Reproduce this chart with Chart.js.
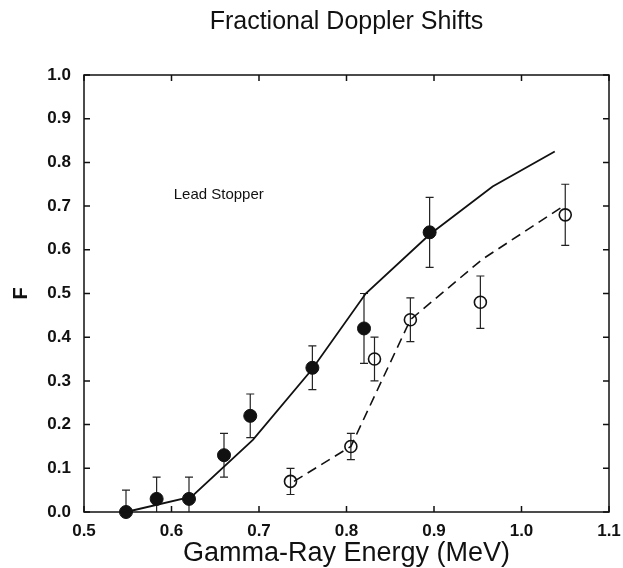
<!DOCTYPE html>
<html lang="en">
<head>
  <meta charset="UTF-8">
  <title>Fractional Doppler Shifts</title>
  <script src="https://cdn.jsdelivr.net/npm/chart.js"></script>
  <style>
    body { margin: 0; background: #fff; }
  </style>
</head>
<body>
  <canvas id="dopplerChart" width="623" height="568"></canvas>

  <script>
    // lead stopper, filled points (measured)
    const filledE = [0.548, 0.583, 0.620, 0.660, 0.690, 0.761, 0.820, 0.895];
    const filledF = [0.00, 0.03, 0.03, 0.13, 0.22, 0.33, 0.42, 0.64];
    const filledHi = [0.05, 0.08, 0.08, 0.18, 0.27, 0.38, 0.50, 0.72];
    const filledLo = [0.00, 0.00, 0.00, 0.08, 0.17, 0.28, 0.34, 0.56];

    // open points
    const openE = [0.736, 0.805, 0.832, 0.873, 0.953, 1.050];
    const openF = [0.07, 0.15, 0.35, 0.44, 0.48, 0.68];
    const openHi = [0.10, 0.18, 0.40, 0.49, 0.54, 0.75];
    const openLo = [0.04, 0.12, 0.30, 0.39, 0.42, 0.61];

    // calculated curves
    const solidE = [0.548, 0.623, 0.693, 0.760, 0.822, 0.895, 0.967, 1.038];
    const solidF = [0.000, 0.035, 0.165, 0.325, 0.500, 0.635, 0.745, 0.825];
    const dashE = [0.740, 0.805, 0.873, 0.955, 1.048];
    const dashF = [0.070, 0.150, 0.440, 0.578, 0.700];

    const xTicks = [0.5, 0.6, 0.7, 0.8, 0.9, 1.0, 1.1];
    const yTicks = [0.0, 0.1, 0.2, 0.3, 0.4, 0.5, 0.6, 0.7, 0.8, 0.9, 1.0];

    const pts = (xs, ys) => xs.map((x, i) => ({ x, y: ys[i] }));
    const ink = '#111';
    const fontFamily = 'Arial, "Liberation Sans", Helvetica, sans-serif';

    // error bars, drawn under the markers so open circles show a line through them
    const errorBars = {
      id: 'errorBars',
      beforeDatasetsDraw(chart) {
        const { ctx, scales: { x, y } } = chart;
        const sets = [[filledE, filledHi, filledLo], [openE, openHi, openLo]];
        ctx.save();
        ctx.strokeStyle = '#222';
        ctx.lineWidth = 1.2;
        sets.forEach(([xs, hi, lo]) => {
          xs.forEach((e, i) => {
            const px = x.getPixelForValue(e);
            const top = y.getPixelForValue(hi[i]);
            const bot = y.getPixelForValue(lo[i]);
            ctx.beginPath();
            ctx.moveTo(px, top);
            ctx.lineTo(px, bot);
            ctx.moveTo(px - 4, top);
            ctx.lineTo(px + 4, top);
            if (lo[i] > 0) {
              ctx.moveTo(px - 4, bot);
              ctx.lineTo(px + 4, bot);
            }
            ctx.stroke();
          });
        });
        ctx.restore();
      }
    };

    // box frame with inward ticks on all four sides, plus the label
    const frame = {
      id: 'frame',
      afterDraw(chart) {
        const { ctx, chartArea: a, scales: { x, y } } = chart;
        ctx.save();
        ctx.strokeStyle = ink;
        ctx.lineWidth = 1.5;
        ctx.strokeRect(a.left, a.top, a.right - a.left, a.bottom - a.top);
        ctx.beginPath();
        xTicks.forEach(v => {
          const px = x.getPixelForValue(v);
          ctx.moveTo(px, a.bottom); ctx.lineTo(px, a.bottom - 6);
          ctx.moveTo(px, a.top); ctx.lineTo(px, a.top + 6);
        });
        yTicks.forEach(v => {
          const py = y.getPixelForValue(v);
          ctx.moveTo(a.left, py); ctx.lineTo(a.left + 6, py);
          ctx.moveTo(a.right, py); ctx.lineTo(a.right - 6, py);
        });
        ctx.stroke();

        ctx.fillStyle = ink;
        ctx.font = '15px ' + fontFamily;
        ctx.textAlign = 'center';
        ctx.textBaseline = 'middle';
        ctx.fillText('Lead Stopper', x.getPixelForValue(0.654), y.getPixelForValue(0.725));
        ctx.restore();
      }
    };

    new Chart(document.getElementById('dopplerChart').getContext('2d'), {
      type: 'scatter',
      data: {
        datasets: [
          {
            data: pts(solidE, solidF),
            showLine: true,
            borderColor: ink,
            borderWidth: 1.8,
            pointRadius: 0,
            tension: 0
          },
          {
            data: pts(dashE, dashF),
            showLine: true,
            borderColor: ink,
            borderWidth: 1.6,
            borderDash: [10, 6],
            pointRadius: 0,
            tension: 0
          },
          {
            data: pts(filledE, filledF),
            pointRadius: 6.5,
            pointBackgroundColor: ink,
            pointBorderColor: ink,
            pointBorderWidth: 1
          },
          {
            data: pts(openE, openF),
            pointRadius: 6,
            pointBackgroundColor: 'rgba(0,0,0,0)',
            pointBorderColor: ink,
            pointBorderWidth: 1.6
          }
        ]
      },
      options: {
        responsive: false,
        animation: false,
        clip: false,
        layout: { padding: { left: 0, right: 14, top: 0, bottom: 0 } },
        plugins: {
          legend: { display: false },
          tooltip: { enabled: false },
          title: {
            display: true,
            fullSize: false,
            text: 'Fractional Doppler Shifts',
            color: ink,
            font: { family: fontFamily, size: 25, weight: 'normal' },
            padding: { top: 7, bottom: 38 }
          }
        },
        scales: {
          x: {
            type: 'linear',
            min: 0.5,
            max: 1.1,
            afterFit: s => { s.height = 56; s.paddingLeft = 0; s.paddingRight = 0; },
            afterBuildTicks: s => { s.ticks = xTicks.map(v => ({ value: v })); },
            grid: { display: false, drawTicks: false },
            border: { display: false },
            ticks: {
              color: ink,
              padding: 9,
              font: { family: fontFamily, size: 17, weight: 'bold' },
              callback: v => v.toFixed(1)
            },
            title: {
              display: true,
              text: 'Gamma-Ray Energy (MeV)',
              color: ink,
              font: { family: fontFamily, size: 27, weight: 'normal', lineHeight: 1.1 },
              padding: { top: 0, bottom: 0 }
            }
          },
          y: {
            type: 'linear',
            min: 0,
            max: 1,
            afterFit: s => { s.width = 84; },
            afterBuildTicks: s => { s.ticks = yTicks.map(v => ({ value: v })); },
            grid: { display: false, drawTicks: false },
            border: { display: false },
            ticks: {
              color: ink,
              padding: 13,
              font: { family: fontFamily, size: 17, weight: 'bold' },
              callback: v => v.toFixed(1)
            },
            title: {
              display: true,
              text: 'F',
              color: ink,
              font: { family: fontFamily, size: 20, weight: 'bold' },
              padding: { top: 9, bottom: 0 }
            }
          }
        }
      },
      plugins: [errorBars, frame]
    });
  </script>
</body>
</html>
